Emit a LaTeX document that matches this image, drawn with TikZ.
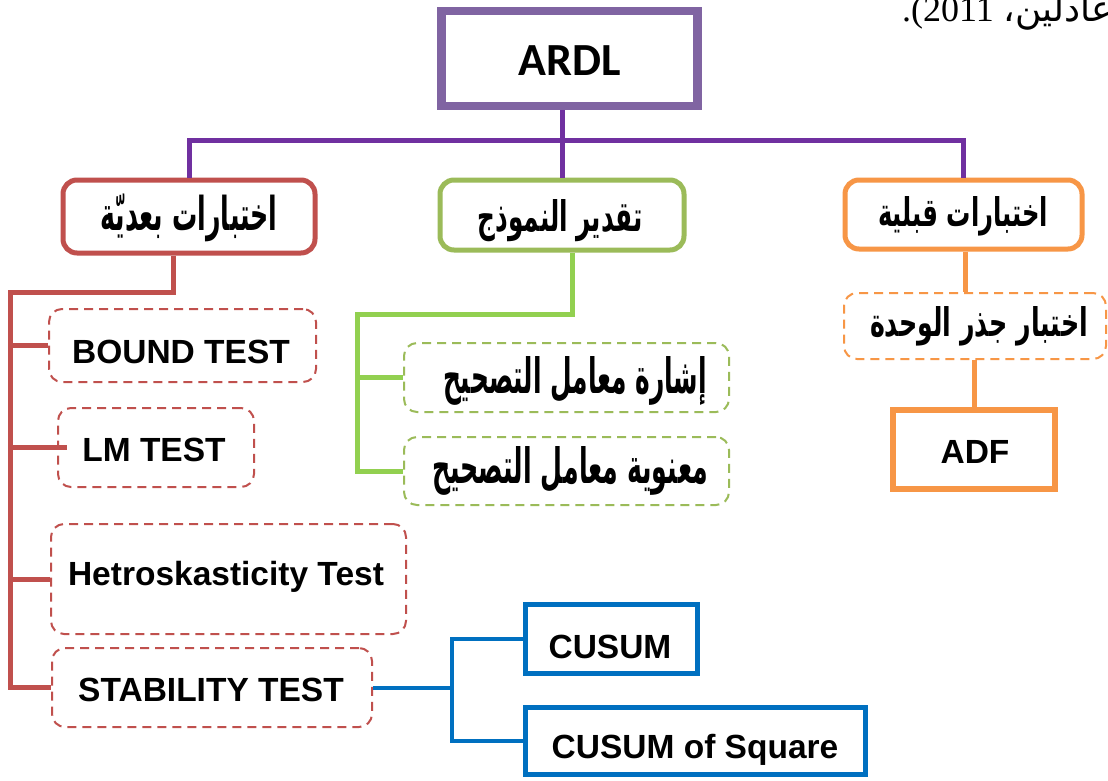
\documentclass[tikz,border=0pt]{standalone}
\usepackage{fontspec}
\setmainfont{Liberation Sans}
\newfontfamily\ardlfont{Carlito}
\newfontfamily\arabfont[Script=Arabic]{DejaVu Sans}
\newfontfamily\timesfont{Liberation Serif}
\TeXXeTstate=1
\definecolor{ardlpurple}{HTML}{8064A2}
\definecolor{connpurple}{HTML}{7030A0}
\definecolor{offred}{HTML}{C0504D}
\definecolor{offgreen}{HTML}{9BBB59}
\definecolor{brightgreen}{HTML}{92D050}
\definecolor{offorange}{HTML}{F79646}
\definecolor{offblue}{HTML}{0070C0}
\tikzset{
  roundbox/.style={draw, line width=5pt, rounded corners=14pt, inner sep=0pt},
  dbox/.style={draw, line width=2pt, rounded corners=13pt, dash pattern=on 9pt off 6pt, inner sep=0pt},
  sqbox/.style={draw, line width=6pt, inner sep=0pt},
  conn/.style={line width=5pt},
  lat/.style={inner sep=0pt, font=\bfseries\fontsize{33.5}{40}\selectfont},
  ar/.style={inner sep=0pt, font=\arabfont\bfseries\fontsize{30}{36}\selectfont},
}
\begin{document}
\begin{tikzpicture}[x=1pt,y=-1pt]
\useasboundingbox (0,0) rectangle (1108,780);
\fill[white] (0,0) rectangle (1108,780);

% partial citation text at top right
\node[anchor=base west, inner sep=0pt, font=\fontsize{36}{40}\selectfont] (cite) at (902,21)
  {\timesfont .(2011\hspace{10pt}\arabfont\beginR عادلين،\endR};

% ARDL
\node[draw=ardlpurple, line width=8pt, minimum width=257pt, minimum height=95pt, inner sep=0pt] (ardl) at (569.5,58.5) {};
\draw[ardlpurple, line width=1.6pt] ([shift={(8.5,7.5)}]ardl.north west) rectangle ([shift={(-8.5,-7.5)}]ardl.south east);
\node[inner sep=0pt, font=\ardlfont\bfseries\fontsize{46}{50}\selectfont] (tardl) at (570,61) {ARDL};

% level 2
\node[roundbox, draw=offred, minimum width=252pt, minimum height=73pt] (post) at (189,216.5) {};
\node[roundbox, draw=offgreen, minimum width=244pt, minimum height=70pt] (est) at (562,215) {};
\node[roundbox, draw=offorange, minimum width=237pt, minimum height=69pt] (pre) at (963.5,214.5) {};
\node[ar] (tpost) at (189,218) {\resizebox{177pt}{36pt}{\beginR اختبارات بعديّة\endR}};
\node[ar] (test) at (560,221) {\resizebox{165pt}{32pt}{\beginR تقدير النموذج\endR}};
\node[ar] (tpre) at (963,216) {\resizebox{170pt}{30pt}{\beginR اختبارات قبلية\endR}};

% purple connectors
\coordinate (hub) at (562,140);
\draw[conn, connpurple] (ardl.south -| hub) -- (hub);
\draw[conn, connpurple] (post.north) |- (hub) -| (pre.north);
\draw[conn, connpurple] (hub) -- (est.north);

% red subtree
\node[dbox, draw=offred, minimum width=267pt, minimum height=73pt] (bt) at (182.5,345.5) {};
\node[dbox, draw=offred, minimum width=196pt, minimum height=79pt] (lm) at (156,447.5) {};
\node[dbox, draw=offred, minimum width=355pt, minimum height=110pt] (het) at (228.5,579) {};
\node[dbox, draw=offred, minimum width=320pt, minimum height=79pt] (stab) at (212,687.5) {};
\node[lat] (tbt) at (181,352) {BOUND TEST};
\node[lat] (tlm) at (154,450) {LM TEST};
\node[lat] (thet) at (226,577) {Hetroskasticity Test};
\node[lat] (tstab) at (211,690) {STABILITY TEST};
\coordinate (rtop) at (173,292);
\coordinate (rleft) at (10,292);
\draw[conn, offred] (post.south -| rtop) -- (rtop) -- (rleft) -- (rleft |- stab.west) -- (stab.west);
\draw[conn, offred] (rleft |- bt.west) -- (bt.west);
\draw[conn, offred] (rleft |- lm.west) -- ([xshift=10pt]lm.west);
\draw[conn, offred] (rleft |- het.west) -- (het.west);

% green subtree
\node[dbox, draw=offgreen, minimum width=325pt, minimum height=69pt] (g1) at (566.5,377.5) {};
\node[dbox, draw=offgreen, minimum width=325pt, minimum height=68pt] (g2) at (566.5,471) {};
\node[ar] (tg1) at (575,381) {\resizebox{264pt}{37pt}{\beginR إشارة معامل التصحيح\endR}};
\node[ar] (tg2) at (570,471) {\resizebox{276pt}{37pt}{\beginR معنوية معامل التصحيح\endR}};
\coordinate (gtop) at (572,314);
\coordinate (gleft) at (357,314);
\draw[conn, brightgreen] (est.south -| gtop) -- (gtop) -- (gleft) -- (gleft |- g2.west) -- (g2.west);
\draw[conn, brightgreen] (gleft |- g1.west) -- (g1.west);

% orange subtree
\node[dbox, draw=offorange, minimum width=262pt, minimum height=66pt] (o1) at (975,326) {};
\node[ar] (to1) at (979,326) {\resizebox{218pt}{30pt}{\beginR اختبار جذر الوحدة\endR}};
\node[sqbox, draw=offorange, minimum width=162pt, minimum height=79pt] (adf) at (974,449.5) {};
\node[lat] (tadf) at (975,452) {ADF};
\coordinate (ox) at (965,0);
\draw[conn, offorange] (pre.south -| ox) -- (o1.north -| ox);
\draw[conn, offorange] (o1.south -| adf.north) -- (adf.north);

% blue subtree
\node[sqbox, draw=offblue, line width=5pt, minimum width=172pt, minimum height=69pt] (cusum) at (611.5,639) {};
\node[sqbox, draw=offblue, line width=5pt, minimum width=340pt, minimum height=67pt] (cusq) at (695.5,741) {};
\node[lat] (tcusum) at (610,647) {CUSUM};
\node[lat] (tcusq) at (695,750) {CUSUM of Square};
\coordinate (bj) at (452,688);
\draw[line width=4pt, offblue] (stab.east) -- (stab.east -| bj);
\draw[line width=4pt, offblue] (cusum.west) -- (cusum.west -| bj) -- (cusq.west -| bj) -- (cusq.west);
\end{tikzpicture}
\end{document}
